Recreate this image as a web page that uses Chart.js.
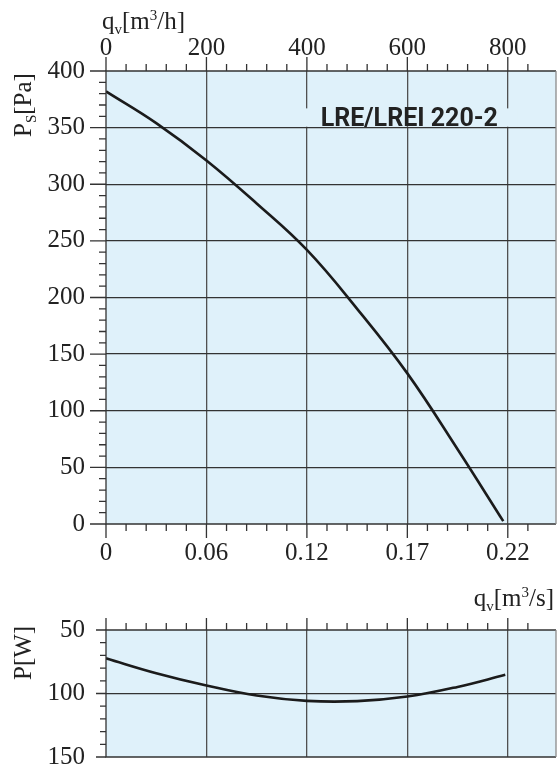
<!DOCTYPE html>
<html>
<head>
<meta charset="utf-8">
<script src="https://cdn.jsdelivr.net/npm/chart.js@4.4.1/dist/chart.umd.min.js"></script>
<style>
  html, body { margin: 0; background: #fff; overflow: hidden; }
  #wrap { position: relative; width: 559px; height: 767px; overflow: hidden; }
  canvas { position: absolute; left: 0; }
</style>
</head>
<body>
<div id="wrap">
  <canvas id="pressure" width="559" height="580" style="top:0"></canvas>
  <canvas id="power" width="559" height="230" style="top:580px"></canvas>
</div>
<script>
// static pressure curve, flow in m3/h
const flowPs = [0, 100, 200, 300, 400, 500, 600, 700, 791];
const staticPressure = [382, 354, 321, 283, 242, 190, 133, 66, 2.5];

// power curve
const flowP = [0, 100, 200, 300, 400, 500, 600, 700, 795];
const power = [72.3, 84, 93.7, 101.6, 105.8, 106, 102.4, 94.8, 85.3];

const flowTickValues = [0, 200, 400, 600, 800];
const flowLabelsH = ['0', '200', '400', '600', '800'];       // m3/h
const flowLabelsS = ['0', '0.06', '0.12', '0.17', '0.22'];   // m3/s
const modelName = 'LRE/LREI 220-2';

const FLOW_MAX = 896;
const BG = '#dff1fa';
const INK = '#222';
const serif = "'Liberation Serif', 'Times New Roman', serif";
const tickFont = { family: serif, size: 25 };

const onStep = step => s => { s.ticks = s.ticks.filter(t => Math.abs(t.value % step) < 1e-6); };
const flowLabel = labels => v => {
  const i = flowTickValues.indexOf(v);
  return i >= 0 ? labels[i] : '';
};

function drawTickMarks(chart, id, majorStep, majorLen, minorLen) {
  const s = chart.scales[id];
  const ctx = chart.ctx;
  ctx.save();
  ctx.strokeStyle = '#333';
  ctx.lineWidth = 1.3;
  ctx.beginPath();
  s.ticks.forEach(t => {
    const p = s.getPixelForValue(t.value);
    const len = Math.abs(t.value % majorStep) < 1e-6 ? majorLen : minorLen;
    if (s.position === 'top') { ctx.moveTo(p, s.bottom); ctx.lineTo(p, s.bottom - len); }
    else if (s.position === 'bottom') { ctx.moveTo(p, s.top); ctx.lineTo(p, s.top + len); }
    else { ctx.moveTo(s.right, p); ctx.lineTo(s.right - len, p); }
  });
  ctx.stroke();
  ctx.restore();
}

// text with sub/superscripts: parts = [[text, ''|'sub'|'sup'], ...]
function drawRich(ctx, parts, x, y, align) {
  const fontFor = k => k === '' ? `25px ${serif}` : `15px ${serif}`;
  let total = 0;
  parts.forEach(([t, k]) => { ctx.font = fontFor(k); total += ctx.measureText(t).width; });
  let cx = align === 'right' ? x - total : x;
  ctx.fillStyle = INK;
  ctx.textAlign = 'left';
  ctx.textBaseline = 'alphabetic';
  parts.forEach(([t, k]) => {
    ctx.font = fontFor(k);
    const dy = k === 'sub' ? 5 : k === 'sup' ? -9 : 0;
    ctx.fillText(t, cx, y + dy);
    cx += ctx.measureText(t).width;
  });
}

function frame(chart) {
  const a = chart.chartArea, ctx = chart.ctx;
  ctx.save();
  ctx.lineWidth = 1.3;
  ctx.strokeStyle = '#333';
  ctx.beginPath();
  ctx.moveTo(a.right, a.top); ctx.lineTo(a.left, a.top);
  ctx.lineTo(a.left, a.bottom); ctx.lineTo(a.right, a.bottom);
  ctx.stroke();
  ctx.strokeStyle = '#8a8a8a';
  ctx.beginPath();
  ctx.moveTo(a.right, a.top); ctx.lineTo(a.right, a.bottom);
  ctx.stroke();
  ctx.restore();
}

const background = {
  id: 'background',
  beforeDraw(chart) {
    const a = chart.chartArea;
    chart.ctx.save();
    chart.ctx.fillStyle = BG;
    chart.ctx.fillRect(a.left, a.top, a.right - a.left, a.bottom - a.top);
    chart.ctx.restore();
  }
};

const vGrid = c => (c.tick && c.tick.value % 200 === 0 && c.tick.value > 0) ? '#505050' : 'transparent';

const pressureChart = new Chart(document.getElementById('pressure'), {
  type: 'line',
  data: {
    datasets: [{
      data: flowPs.map((q, i) => ({ x: q, y: staticPressure[i] })),
      borderColor: '#1b1b1b',
      borderWidth: 2.6,
      pointRadius: 0,
      tension: 0.4,
      xAxisID: 'x',
      yAxisID: 'y'
    }]
  },
  options: {
    responsive: false,
    animation: false,
    devicePixelRatio: 1,
    layout: { padding: { left: 0, right: 3, top: 0, bottom: 0 } },
    plugins: { legend: { display: false }, tooltip: { enabled: false } },
    scales: {
      x: {
        type: 'linear', position: 'bottom', min: 0, max: FLOW_MAX,
        afterFit: s => { s.height = 56; },
        afterBuildTicks: onStep(40),
        ticks: { stepSize: 40, autoSkip: false, maxRotation: 0, padding: 14, color: INK, font: tickFont,
                 callback: flowLabel(flowLabelsS) },
        grid: { drawTicks: false, color: vGrid, lineWidth: 1.3 },
        border: { display: false }
      },
      x2: {
        type: 'linear', position: 'top', min: 0, max: FLOW_MAX,
        afterFit: s => { s.height = 71; },
        afterBuildTicks: onStep(40),
        ticks: { stepSize: 40, autoSkip: false, maxRotation: 0, padding: 8, color: INK, font: tickFont,
                 callback: flowLabel(flowLabelsH) },
        grid: { display: false, drawTicks: false },
        border: { display: false }
      },
      y: {
        min: 0, max: 400,
        afterFit: s => { s.width = 106; },
        afterBuildTicks: onStep(10),
        ticks: { stepSize: 10, autoSkip: false, padding: 21, color: INK, font: tickFont,
                 callback: v => v % 50 === 0 ? String(v) : '' },
        grid: { drawTicks: false, lineWidth: 1.3,
                color: c => (c.tick && c.tick.value % 50 === 0 && c.tick.value > 0 && c.tick.value < 400) ? '#333' : 'transparent' },
        border: { display: false }
      }
    }
  },
  plugins: [background, {
    id: 'decor',
    afterDraw(chart) {
      const ctx = chart.ctx;
      frame(chart);
      drawTickMarks(chart, 'x', 200, 14, 7);
      drawTickMarks(chart, 'x2', 200, 14, 7);
      drawTickMarks(chart, 'y', 50, 16, 7);

      // model name box
      const xs = chart.scales.x, ys = chart.scales.y;
      const top = ys.getPixelForValue(367), bottom = ys.getPixelForValue(350.8);
      const left = xs.getPixelForValue(385), right = xs.getPixelForValue(820);
      ctx.save();
      ctx.fillStyle = BG;
      ctx.fillRect(left, top, right - left, bottom - top);
      const x600 = xs.getPixelForValue(600);
      ctx.strokeStyle = '#505050';
      ctx.lineWidth = 1.3;
      ctx.beginPath(); ctx.moveTo(x600, top); ctx.lineTo(x600, bottom); ctx.stroke();
      ctx.fillStyle = INK;
      ctx.font = 'bold 25px Roboto';
      ctx.textAlign = 'center';
      ctx.textBaseline = 'alphabetic';
      ctx.fillText(modelName, xs.getPixelForValue(604), ys.getPixelForValue(351.5));
      ctx.restore();

      // axis titles
      drawRich(ctx, [['q', ''], ['v', 'sub'], ['[m', ''], ['3', 'sup'], ['/h]', '']], 102, 29);
      ctx.save();
      ctx.translate(31, 137);
      ctx.rotate(-Math.PI / 2);
      drawRich(ctx, [['P', ''], ['S', 'sub'], ['[Pa]', '']], 0, 0);
      ctx.restore();
    }
  }]
});

const powerChart = new Chart(document.getElementById('power'), {
  type: 'line',
  data: {
    datasets: [{
      data: flowP.map((q, i) => ({ x: q, y: power[i] })),
      borderColor: '#1b1b1b',
      borderWidth: 2.6,
      pointRadius: 0,
      tension: 0.4
    }]
  },
  options: {
    responsive: false,
    animation: false,
    devicePixelRatio: 1,
    // canvas runs past the window bottom so the 150 label keeps its room
    layout: { padding: { left: 0, right: 3, top: 0, bottom: 53 } },
    plugins: { legend: { display: false }, tooltip: { enabled: false } },
    scales: {
      x: {
        type: 'linear', position: 'top', min: 0, max: FLOW_MAX,
        afterFit: s => { s.height = 50; },
        afterBuildTicks: onStep(40),
        ticks: { stepSize: 40, display: false },
        grid: { drawTicks: false, color: vGrid, lineWidth: 1.3 },
        border: { display: false }
      },
      y: {
        min: 50, max: 150, reverse: true,
        afterFit: s => { s.width = 106; },
        afterBuildTicks: onStep(10),
        ticks: { stepSize: 10, autoSkip: false, padding: 21, color: INK, font: tickFont,
                 callback: v => v % 50 === 0 ? String(v) : '' },
        grid: { drawTicks: false, lineWidth: 1.3,
                color: c => (c.tick && c.tick.value === 100) ? '#333' : 'transparent' },
        border: { display: false }
      }
    }
  },
  plugins: [background, {
    id: 'decor',
    afterDraw(chart) {
      const ctx = chart.ctx;
      frame(chart);
      drawTickMarks(chart, 'x', 200, 12, 7);
      drawTickMarks(chart, 'y', 50, 10, 6);
      drawRich(ctx, [['q', ''], ['v', 'sub'], ['[m', ''], ['3', 'sup'], ['/s]', '']], 554, 26, 'right');
      ctx.save();
      ctx.translate(31, 100);
      ctx.rotate(-Math.PI / 2);
      drawRich(ctx, [['P[W]', '']], 0, 0);
      ctx.restore();
    }
  }]
});
</script>
</body>
</html>
